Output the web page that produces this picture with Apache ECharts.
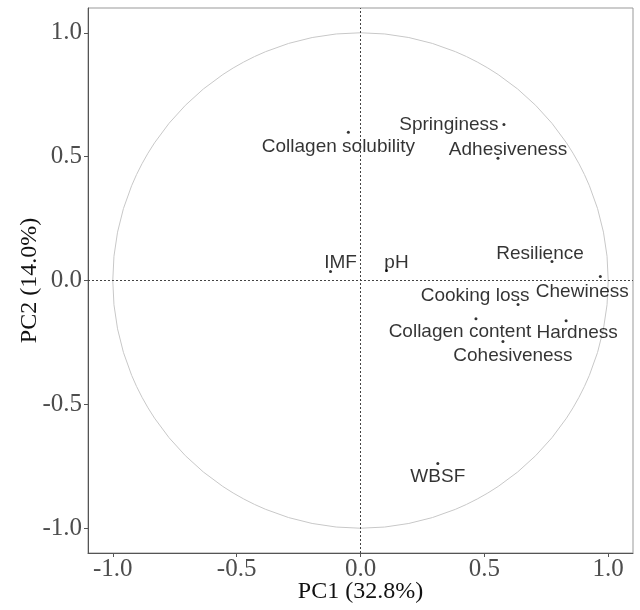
<!DOCTYPE html>
<html>
<head>
<meta charset="utf-8">
<script src="https://cdn.jsdelivr.net/npm/echarts@6/dist/echarts.min.js"></script>
<style>
  html, body { margin: 0; padding: 0; background: #fff; }
  #main { width: 640px; height: 610px; }
</style>
</head>
<body>
<div id="main"></div>
<script>
  // 变量名称
  var variables = [
    "Collagen solubility", "Springiness", "Adhesiveness", "Resilience",
    "Chewiness", "IMF", "pH", "Cooking loss", "Collagen content",
    "Hardness", "Cohesiveness", "WBSF"
  ];
  // PC1 载荷
  var pc1 = [-0.049, 0.579, 0.555, 0.773, 0.968, -0.121, 0.105, 0.636, 0.466, 0.830, 0.575, 0.312];
  // PC2 载荷
  var pc2 = [0.598, 0.630, 0.493, 0.077, 0.016, 0.036, 0.040, -0.097, -0.154, -0.162, -0.246, -0.739];
  // 刻度
  var tickValues = [-1.0, -0.5, 0.0, 0.5, 1.0];
  // 单位圆
  var circleCenter = [0, 0];
  var circleRadius = 1;

  // 标签偏移（像素）
  var labelOffset = {
    "Collagen solubility": [-10, 14],
    "Springiness": [-55, 0],
    "Adhesiveness": [10, -9],
    "Resilience": [-12, -8],
    "Chewiness": [-18, 15],
    "IMF": [10, -9],
    "pH": [10, -8],
    "Cooking loss": [-43, -9],
    "Collagen content": [-16, 13],
    "Hardness": [11, 12],
    "Cohesiveness": [10, 14],
    "WBSF": [0, 13]
  };

  var chart = echarts.init(document.getElementById("main"));

  var points = variables.map(function (name, i) {
    return {
      name: name,
      value: [pc1[i], pc2[i]],
      label: { offset: labelOffset[name] }
    };
  });

  var axisCommon = {
    type: "value",
    min: -1.1,
    max: 1.1,
    splitLine: { show: false },
    axisLine: { onZero: false, lineStyle: { color: "#555", width: 1 } },
    axisTick: { show: true, length: 4, customValues: tickValues, lineStyle: { color: "#555" } },
    axisLabel: {
      customValues: tickValues,
      fontFamily: "Liberation Serif",
      fontSize: 25,
      color: "#4d4d4d",
      formatter: function (v) { return v.toFixed(1); }
    },
    nameLocation: "middle",
    nameMoveOverlap: false,
    nameTextStyle: { fontFamily: "Liberation Serif", fontSize: 24, color: "#111" }
  };

  var option = {
    animation: false,
    grid: {
      left: 88, top: 8, right: 7, bottom: 57,
      outerBoundsMode: "none",
      containLabel: false,
      show: true, borderColor: "#999", borderWidth: 1
    },
    xAxis: Object.assign({}, axisCommon, {
      name: "PC1 (32.8%)",
      nameGap: 27,
      axisLabel: Object.assign({}, axisCommon.axisLabel, { margin: 4 })
    }),
    yAxis: Object.assign({}, axisCommon, {
      name: "PC2 (14.0%)",
      nameGap: 46,
      axisLabel: Object.assign({}, axisCommon.axisLabel, { margin: 6 })
    }),
    series: [
      {
        type: "custom",
        silent: true,
        data: [circleCenter],
        renderItem: function (params, api) {
          var c = api.coord(circleCenter);
          var r = api.coord([circleCenter[0] + circleRadius, circleCenter[1]])[0] - c[0];
          return {
            type: "circle",
            shape: { cx: c[0], cy: c[1], r: r },
            style: { fill: null, stroke: "#c8c8c8", lineWidth: 1 }
          };
        },
        z: 1
      },
      {
        type: "scatter",
        symbolSize: 3,
        itemStyle: { color: "#000" },
        data: points,
        label: {
          show: true,
          position: "inside",
          formatter: "{b}",
          fontFamily: "Liberation Sans",
          fontSize: 19,
          color: "#000"
        },
        markLine: {
          silent: true,
          symbol: "none",
          label: { show: false },
          lineStyle: { color: "#444", type: [2, 2], width: 1 },
          data: [{ xAxis: 0 }, { yAxis: 0 }]
        },
        z: 3
      }
    ]
  };

  chart.setOption(option);
</script>
</body>
</html>
